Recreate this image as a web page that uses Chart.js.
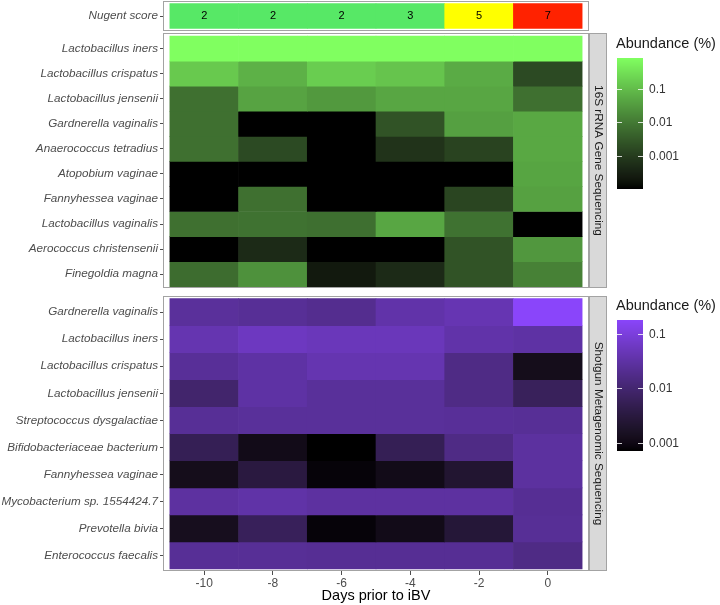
<!DOCTYPE html>
<html>
<head>
<meta charset="utf-8">
<script src="https://cdn.jsdelivr.net/npm/chart.js@4.4.1/dist/chart.umd.min.js"></script>
<style>
  html, body { margin: 0; padding: 0; background: #fff; }
  #wrap { position: relative; width: 720px; height: 605px; overflow: hidden; }
  canvas { position: absolute; left: 0; }
</style>
</head>
<body>
<div id="wrap">
  <canvas id="nugent" width="720" height="33" style="top:0px"></canvas>
  <canvas id="s16" width="720" height="257" style="top:33px"></canvas>
  <canvas id="shotgun" width="720" height="315" style="top:290px"></canvas>
</div>
<script>
// ---- data ----
var days = [-10, -8, -6, -4, -2, 0];
var nugentScores = [2, 2, 2, 3, 5, 7];

var taxa16S = ['Lactobacillus iners', 'Lactobacillus crispatus', 'Lactobacillus jensenii',
  'Gardnerella vaginalis', 'Anaerococcus tetradius', 'Atopobium vaginae', 'Fannyhessea vaginae',
  'Lactobacillus vaginalis', 'Aerococcus christensenii', 'Finegoldia magna'];
var abundance16S = [
  [0.85, 0.84, 0.85, 0.85, 0.84, 0.85],
  [0.15, 0.068, 0.17, 0.13, 0.056, 0.0017],
  [0.007, 0.043, 0.030, 0.047, 0.047, 0.007],
  [0.007, 0.0001, 0.0001, 0.0024, 0.039, 0.05],
  [0.007, 0.0017, 0.0001, 0.00068, 0.0013, 0.05],
  [0.0001, 0.0001, 0.0001, 0.0001, 0.0001, 0.045],
  [0.0001, 0.007, 0.0001, 0.0001, 0.0014, 0.04],
  [0.007, 0.0075, 0.0068, 0.047, 0.0075, 0.0001],
  [0.0001, 0.00047, 0.0001, 0.0001, 0.0024, 0.028],
  [0.0062, 0.023, 0.00022, 0.00047, 0.0024, 0.013]
];

var taxaShotgun = ['Gardnerella vaginalis', 'Lactobacillus iners', 'Lactobacillus crispatus',
  'Lactobacillus jensenii', 'Streptococcus dysgalactiae', 'Bifidobacteriaceae bacterium',
  'Fannyhessea vaginae', 'Mycobacterium sp. 1554424.7', 'Prevotella bivia', 'Enterococcus faecalis'];
var abundanceShotgun = [
  [0.026, 0.023, 0.020, 0.035, 0.042, 0.18],
  [0.040, 0.056, 0.050, 0.050, 0.035, 0.031],
  [0.024, 0.031, 0.040, 0.040, 0.016, 0.0012],
  [0.0092, 0.031, 0.025, 0.025, 0.016, 0.0062],
  [0.023, 0.025, 0.025, 0.025, 0.024, 0.023],
  [0.0053, 0.0011, 0.0007, 0.0053, 0.016, 0.028],
  [0.0012, 0.0032, 0.0008, 0.0011, 0.0022, 0.028],
  [0.029, 0.033, 0.029, 0.029, 0.029, 0.022],
  [0.0013, 0.006, 0.0008, 0.0011, 0.0026, 0.023],
  [0.023, 0.023, 0.022, 0.022, 0.022, 0.016]
];
var legendTicks = [0.1, 0.01, 0.001];

var FONT = '"Liberation Sans", Arial, Helvetica, sans-serif';
Chart.defaults.font.family = FONT;

// ---- colour helpers (black -> high colour, interpolated in Lab like ggplot) ----
function lin(c) { c /= 255; return c <= 0.04045 ? c / 12.92 : Math.pow((c + 0.055) / 1.055, 2.4); }
function gam(c) { c = c <= 0.0031308 ? 12.92 * c : 1.055 * Math.pow(c, 1 / 2.4) - 0.055; return Math.max(0, Math.min(255, Math.round(c * 255))); }
function toLab(hex) {
  var r = lin(parseInt(hex.substr(1, 2), 16)), g = lin(parseInt(hex.substr(3, 2), 16)), b = lin(parseInt(hex.substr(5, 2), 16));
  var x = (0.4124564 * r + 0.3575761 * g + 0.1804375 * b) / 0.95047;
  var y = 0.2126729 * r + 0.7151522 * g + 0.0721750 * b;
  var z = (0.0193339 * r + 0.1191920 * g + 0.9503041 * b) / 1.08883;
  var f = function (v) { return v > 0.008856 ? Math.cbrt(v) : 7.787 * v + 16 / 116; };
  return [116 * f(y) - 16, 500 * (f(x) - f(y)), 200 * (f(y) - f(z))];
}
function fromLab(L, a, bb) {
  var fy = (L + 16) / 116, fx = fy + a / 500, fz = fy - bb / 200;
  var inv = function (t) { return t * t * t > 0.008856 ? t * t * t : (t - 16 / 116) / 7.787; };
  var x = inv(fx) * 0.95047, y = inv(fy), z = inv(fz) * 1.08883;
  var r = 3.2404542 * x - 1.5371385 * y - 0.4985314 * z;
  var g = -0.9692660 * x + 1.8760108 * y + 0.0415560 * z;
  var b = 0.0556434 * x - 0.2040259 * y + 1.0572252 * z;
  return 'rgb(' + gam(r) + ',' + gam(g) + ',' + gam(b) + ')';
}
function makeScale(rows, high) {
  var logs = [].concat.apply([], rows).map(function (v) { return Math.log10(v); });
  var lo = Math.min.apply(null, logs), hi = Math.max.apply(null, logs);
  var lab = toLab(high);
  var at = function (t) { return fromLab(lab[0] * t, lab[1] * t, lab[2] * t); };
  return {
    lo: lo, hi: hi, at: at,
    t: function (v) { return (Math.log10(v) - lo) / (hi - lo); },
    color: function (v) { return at((Math.log10(v) - lo) / (hi - lo)); }
  };
}
var green = makeScale(abundance16S, '#80FF60');
var purple = makeScale(abundanceShotgun, '#8A45FA');
function nugentColor(s) { return s <= 3 ? '#57E866' : (s <= 6 ? '#FFFF00' : '#FF2200'); }

// ---- plugins ----
function framePlugin(stripText) {
  return {
    id: 'frame',
    afterDatasetsDraw: function (chart) {
      var a = chart.chartArea, c = chart.ctx;
      c.save();
      c.strokeStyle = '#A3A3A3';
      c.lineWidth = 1;
      c.strokeRect(Math.round(a.left) + 0.5, Math.round(a.top) + 0.5,
        Math.round(a.right - a.left) - 1, Math.round(a.bottom - a.top) - 1);
      if (stripText) {
        var sx = Math.round(a.right), sw = 18;
        c.fillStyle = '#D9D9D9';
        c.fillRect(sx, Math.round(a.top), sw, Math.round(a.bottom - a.top));
        c.strokeRect(sx + 0.5, Math.round(a.top) + 0.5, sw - 1, Math.round(a.bottom - a.top) - 1);
        c.translate(sx + sw / 2, (a.top + a.bottom) / 2);
        c.rotate(Math.PI / 2);
        c.fillStyle = '#1A1A1A';
        c.font = '11.8px ' + FONT;
        c.textAlign = 'center';
        c.textBaseline = 'middle';
        c.fillText(stripText, 0, 0);
      }
      c.restore();
    }
  };
}
function legendPlugin(sc, titleOff, barOff) {
  return {
    id: 'colourbar',
    afterDraw: function (chart) {
      var a = chart.chartArea, c = chart.ctx;
      var x0 = 617, w = 26, h = 131, y0 = a.top + barOff;
      c.save();
      c.fillStyle = '#1A1A1A';
      c.font = '14.5px ' + FONT;
      c.textAlign = 'left';
      c.textBaseline = 'middle';
      c.fillText('Abundance (%)', 616, a.top + titleOff);
      for (var k = 0; k < h; k++) {
        c.fillStyle = sc.at(1 - (k + 0.5) / h);
        c.fillRect(x0, y0 + k, w, 1);
      }
      c.font = '12px ' + FONT;
      legendTicks.forEach(function (v) {
        var y = Math.round(y0 + (1 - sc.t(v)) * h) + 0.5;
        c.strokeStyle = 'rgba(255,255,255,0.8)';
        c.beginPath();
        c.moveTo(x0, y); c.lineTo(x0 + 5, y);
        c.moveTo(x0 + w - 5, y); c.lineTo(x0 + w, y);
        c.stroke();
        c.fillStyle = '#333333';
        c.fillText(String(v), x0 + w + 6, y);
      });
      c.restore();
    }
  };
}
var nugentText = {
  id: 'nugentText',
  afterDatasetsDraw: function (chart) {
    var c = chart.ctx, meta = chart.getDatasetMeta(0);
    c.save();
    c.fillStyle = '#000';
    c.font = '11px ' + FONT;
    c.textAlign = 'center';
    c.textBaseline = 'middle';
    meta.data.forEach(function (bar, j) {
      c.fillText(String(nugentScores[j]), bar.x, (bar.y + bar.base) / 2);
    });
    c.restore();
  }
};

// ---- chart builder ----
function heatmap(id, rows, labels, colorOf, yMin, yMax, padding, showX, plugins) {
  var datasets = rows.map(function (vals, i) {
    return {
      data: days.map(function (d) { return { x: d, y: [i - 0.5, i + 0.5] }; }),
      backgroundColor: vals.map(colorOf),
      borderWidth: 0,
      barPercentage: 1,
      categoryPercentage: 1,
      grouped: false
    };
  });
  return new Chart(document.getElementById(id), {
    type: 'bar',
    data: { datasets: datasets },
    options: {
      responsive: false,
      animation: false,
      events: [],
      layout: { padding: padding },
      plugins: { legend: { display: false }, tooltip: { enabled: false } },
      scales: {
        x: {
          type: 'linear', min: -11.2, max: 1.2, offset: false, display: showX,
          afterBuildTicks: function (s) { s.ticks = days.map(function (d) { return { value: d }; }); },
          afterFit: function (s) { s.height = showX ? 34 : 0; s.paddingLeft = 0; s.paddingRight = 0; },
          ticks: {
            color: '#4D4D4D', font: { size: 12 }, padding: 1, maxRotation: 0, autoSkip: false,
            callback: function (v) { return String(v); }
          },
          grid: { drawOnChartArea: false, offset: false, tickLength: 4, color: '#4D4D4D' },
          border: { display: false },
          title: { display: true, text: 'Days prior to iBV', color: '#000', font: { size: 14.5 }, padding: { top: 0, bottom: 0 } }
        },
        y: {
          type: 'linear', reverse: true, min: yMin, max: yMax,
          afterBuildTicks: function (s) { s.ticks = labels.map(function (_, i) { return { value: i }; }); },
          afterFit: function (s) { s.width = 163; s.paddingTop = 0; s.paddingBottom = 0; },
          ticks: {
            color: '#4D4D4D', font: { size: 11.7, style: 'italic' }, padding: 2, autoSkip: false,
            callback: function (v) { return labels[v]; }
          },
          grid: { drawOnChartArea: false, offset: false, tickLength: 3, color: '#4D4D4D' },
          border: { display: false }
        }
      }
    },
    plugins: plugins
  });
}

heatmap('nugent', [nugentScores], ['Nugent score'], nugentColor, -0.6, 0.6,
  { top: 1, bottom: 2, left: 0, right: 131 }, false, [framePlugin(null), nugentText]);

heatmap('s16', abundance16S, taxa16S, green.color, -0.62, 9.55,
  { top: 0, bottom: 2, left: 0, right: 131 }, false,
  [framePlugin('16S rRNA Gene Sequencing'), legendPlugin(green, 11, 25)]);

heatmap('shotgun', abundanceShotgun, taxaShotgun, purple.color, -0.6, 9.58,
  { top: 6, bottom: 0, left: 0, right: 131 }, true,
  [framePlugin('Shotgun Metagenomic Sequencing'), legendPlugin(purple, 10, 24)]);
</script>
</body>
</html>
